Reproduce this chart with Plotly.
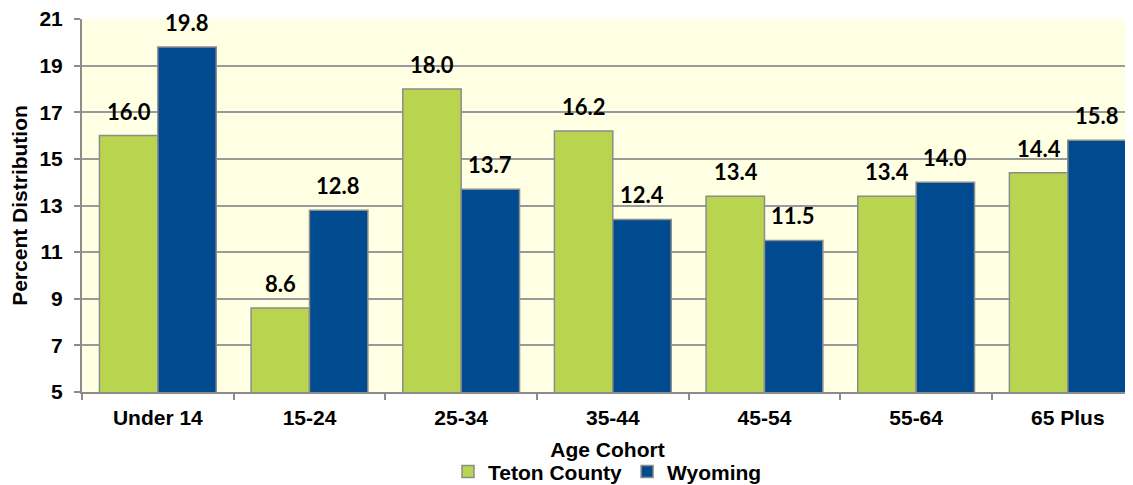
import plotly.graph_objects as go

categories = ["Under 14", "15-24", "25-34", "35-44", "45-54", "55-64", "65 Plus"]
teton = [16.0, 8.6, 18.0, 16.2, 13.4, 13.4, 14.4]
wyoming = [19.8, 12.8, 13.7, 12.4, 11.5, 14.0, 15.8]
y_ticks = [5, 7, 9, 11, 13, 15, 17, 19, 21]

green = "#B9D54F"
blue = "#004A8F"
outline = "#8C8C8C"
base_font = "Liberation Sans, Arial, sans-serif"
fs = 21

fig = go.Figure()
fig.add_bar(name="<b>Teton County</b>", x=categories, y=teton,
            marker=dict(color=green, line=dict(color=outline, width=1.5)))
fig.add_bar(name="<b>Wyoming</b>", x=categories, y=wyoming,
            marker=dict(color=blue, line=dict(color=outline, width=1.5)))

label_font = dict(family="Lato, Open Sans, sans-serif", size=22, color="black")
annotations = []
for i, c in enumerate(categories):
    for v, off in ((teton[i], -0.19), (wyoming[i], 0.19)):
        annotations.append(dict(x=i + off, y=v, xref="x", yref="y", text=f"<b>{v:.1f}</b>",
                                showarrow=False, yanchor="bottom", yshift=9, font=label_font))

# page body adds an 8px offset, so the figure is sized to the remaining window
fig.update_layout(
    width=1125, height=477,
    margin=dict(l=74, r=0, t=11, b=93, autoexpand=False),
    paper_bgcolor="white",
    plot_bgcolor="#FFFFE3",
    barmode="group",
    bargap=0.23,
    bargroupgap=0,
    font=dict(family=base_font, size=fs, color="black"),
    annotations=annotations,
    showlegend=True,
    legend=dict(orientation="h", x=0.5, xanchor="center", y=-0.214, yanchor="middle",
                font=dict(size=fs, family=base_font),
                itemwidth=30, tracegroupgap=0, bgcolor="rgba(0,0,0,0)"),
)
fig.update_xaxes(
    type="category",
    range=[-0.5, 6.43],
    automargin=False,
    showline=True, linecolor=outline, linewidth=2,
    ticks="outside", tickson="boundaries", ticklen=6, tickcolor=outline, tickwidth=2,
    tickfont=dict(size=fs), ticklabelstandoff=6, ticklabeloverflow="allow",
    tickprefix="<b>", ticksuffix="</b>",
    title=dict(text="<b>Age Cohort</b>", font=dict(size=fs), standoff=14),
    showgrid=False,
)
fig.update_yaxes(
    range=[5, 21],
    automargin=False,
    tickvals=y_ticks,
    ticktext=[f"<b>{t}</b>" for t in y_ticks],
    showline=True, linecolor=outline, linewidth=2,
    ticks="outside", ticklen=6, tickcolor=outline, tickwidth=2,
    tickfont=dict(size=fs), ticklabelstandoff=7, ticklabeloverflow="allow",
    showgrid=True, gridcolor="#9A9A9A", gridwidth=1.5,
    title=dict(text="<b>Percent Distribution</b>", font=dict(size=fs), standoff=10),
    zeroline=False,
)
fig.update_traces(cliponaxis=False)

fig.write_html("out.html")
